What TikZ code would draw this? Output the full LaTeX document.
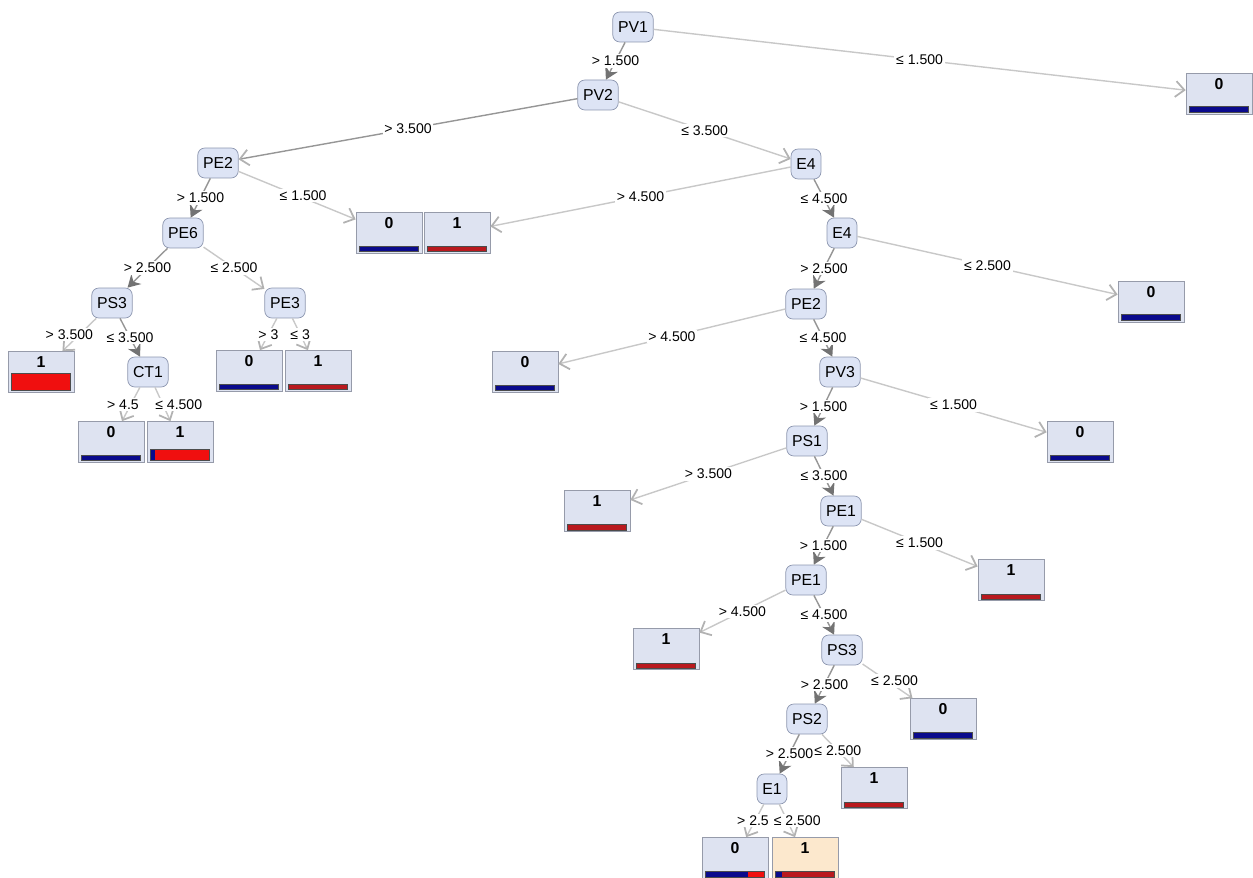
\documentclass[tikz,border=0pt]{standalone}
\usepackage{fontspec}
\setmainfont{Liberation Sans}
\usetikzlibrary{arrows.meta}
\definecolor{nodefill}{RGB}{221,228,245}
\definecolor{nodeline}{RGB}{140,150,175}
\definecolor{leaffill}{RGB}{222,227,241}
\definecolor{leafline}{RGB}{150,155,170}
\definecolor{orangefill}{RGB}{252,232,205}
\definecolor{barblue}{RGB}{10,10,140}
\definecolor{barred}{RGB}{185,25,30}
\definecolor{brightred}{RGB}{240,15,15}
\definecolor{edgelight}{RGB}{200,200,200}
\definecolor{edgedark}{RGB}{150,150,150}

% #1 leaf, #2 blue part (px), #3 bar height (px), #4 rest colour
\newcommand{\leafbar}[4]{%
  \fill[barblue] ([shift={(4,-2)}]#1.south west) rectangle ++(#2,-#3);
  \fill[#4] ([shift={(4+#2,-2)}]#1.south west) rectangle ([shift={(-4,-2-#3)}]#1.south east);
  \draw[black!70,line width=0.4pt] ([shift={(4,-2)}]#1.south west) rectangle ([shift={(-4,-2-#3)}]#1.south east);}

\begin{document}
\begin{tikzpicture}[x=0.02cm,y=-0.02cm]
	\tikzstyle{attr} = [draw=nodeline, fill=nodefill, rounded corners=4pt, minimum height=0.6cm, inner xsep=3pt, font=\fontsize{9}{10}\selectfont]
	\tikzstyle{leaf} = [draw=leafline, fill=leaffill, minimum width=1.32cm, minimum height=0.82cm, inner sep=0pt]
	\tikzstyle{digit} = [anchor=north, inner sep=3pt, font=\fontsize{9}{10}\selectfont\bfseries]
	\tikzstyle{elabel} = [midway, fill=white, inner sep=1pt, font=\fontsize{8}{9}\selectfont]
	\tikzstyle{minor} = [draw=edgelight, line width=0.8pt, -{Straight Barb[length=5pt,width=9pt,line width=1pt,color=black!30]}]
	\tikzstyle{major} = [draw=edgedark, line width=0.8pt, -{Stealth[length=7pt,width=8pt,color=black!55]}]
	\useasboundingbox (0,0) rectangle (1253,878);

	% split nodes
	\node[attr] (pvA) at (633,27) {PV1};
	\node[attr] (pvB) at (598,95) {PV2};
	\node[attr] (peBl) at (218,163) {PE2};
	\node[attr] (eDa) at (806,164) {E4};
	\node[attr] (peF) at (183,233) {PE6};
	\node[attr] (eDb) at (842,233) {E4};
	\node[attr] (psCl) at (112,303) {PS3};
	\node[attr] (peC) at (285,303) {PE3};
	\node[attr] (peBr) at (806,304) {PE2};
	\node[attr] (ctA) at (148,372) {CT1};
	\node[attr] (pvC) at (840,372) {PV3};
	\node[attr] (psA) at (807,441) {PS1};
	\node[attr] (peAa) at (841,511) {PE1};
	\node[attr] (peAb) at (806,580) {PE1};
	\node[attr] (psCr) at (842,650) {PS3};
	\node[attr] (psB) at (807,719) {PS2};
	\node[attr] (eA) at (772,789) {E1};

	% leaves
	\node[leaf, label={[digit]north:0}] (lfA) at (1219,94) {};
	\node[leaf, label={[digit]north:0}] (lfB) at (389,233) {};
	\node[leaf, label={[digit]north:1}] (lfC) at (457,233) {};
	\node[leaf, label={[digit]north:1}] (lfD) at (41,372) {};
	\node[leaf, label={[digit]north:0}] (lfE) at (249,371) {};
	\node[leaf, label={[digit]north:1}] (lfF) at (318,371) {};
	\node[leaf, label={[digit]north:0}] (lfG) at (111,442) {};
	\node[leaf, label={[digit]north:1}] (lfH) at (180,442) {};
	\node[leaf, label={[digit]north:0}] (lfI) at (1151,302) {};
	\node[leaf, label={[digit]north:0}] (lfJ) at (525,372) {};
	\node[leaf, label={[digit]north:0}] (lfK) at (1080,442) {};
	\node[leaf, label={[digit]north:1}] (lfL) at (597,511) {};
	\node[leaf, label={[digit]north:1}] (lfM) at (1011,580) {};
	\node[leaf, label={[digit]north:1}] (lfN) at (666,649) {};
	\node[leaf, label={[digit]north:0}] (lfO) at (943,719) {};
	\node[leaf, label={[digit]north:1}] (lfP) at (874,788) {};
	\node[leaf, label={[digit]north:0}] (lfQ) at (735,858) {};
	\node[leaf, fill=orangefill, label={[digit]north:1}] (lfR) at (805,858) {};

	\leafbar{lfA}{58}{6}{barred}
	\leafbar{lfB}{58}{5}{barred}
	\leafbar{lfC}{0}{5}{barred}
	\leafbar{lfD}{0}{17}{brightred}
	\leafbar{lfE}{58}{5}{barred}
	\leafbar{lfF}{0}{5}{barred}
	\leafbar{lfG}{58}{5}{barred}
	\leafbar{lfH}{4}{11}{brightred}
	\leafbar{lfI}{58}{6}{barred}
	\leafbar{lfJ}{58}{5}{barred}
	\leafbar{lfK}{58}{5}{barred}
	\leafbar{lfL}{0}{5}{barred}
	\leafbar{lfM}{0}{5}{barred}
	\leafbar{lfN}{0}{5}{barred}
	\leafbar{lfO}{58}{6}{barred}
	\leafbar{lfP}{0}{5}{barred}
	\leafbar{lfQ}{42}{6}{brightred}
	\leafbar{lfR}{6}{6}{barred}

	% branches
	\draw[major] (pvA) -- node[elabel] {> 1.500} (pvB);
	\draw[minor] (pvA) -- node[elabel] {≤ 1.500} (lfA);
	\draw[minor, draw=edgedark] (pvB) -- node[elabel] {> 3.500} (peBl);
	\draw[minor] (pvB) -- node[elabel] {≤ 3.500} (eDa);
	\draw[major] (peBl) -- node[elabel] {> 1.500} (peF);
	\draw[minor] (peBl) -- node[elabel, xshift=0.12cm] {≤ 1.500} (lfB);
	\draw[minor] (eDa) -- node[elabel] {> 4.500} (lfC);
	\draw[major] (eDa) -- node[elabel] {≤ 4.500} (eDb);
	\draw[major] (peF) -- node[elabel] {> 2.500} (psCl);
	\draw[minor] (peF) -- node[elabel] {≤ 2.500} (peC);
	\draw[major] (eDb) -- node[elabel] {> 2.500} (peBr);
	\draw[minor] (eDb) -- node[elabel] {≤ 2.500} (lfI);
	\draw[minor] (psCl) -- node[elabel, xshift=-0.2cm] {> 3.500} (lfD);
	\draw[major] (psCl) -- node[elabel] {≤ 3.500} (ctA);
	\draw[minor] (peC) -- node[elabel] {> 3} (lfE);
	\draw[minor] (peC) -- node[elabel] {≤ 3} (lfF);
	\draw[minor] (peBr) -- node[elabel] {> 4.500} (lfJ);
	\draw[major] (peBr) -- node[elabel] {≤ 4.500} (pvC);
	\draw[minor] (ctA) -- node[elabel, xshift=-0.16cm] {> 4.5} (lfG);
	\draw[minor] (ctA) -- node[elabel, xshift=0.32cm] {≤ 4.500} (lfH);
	\draw[major] (pvC) -- node[elabel] {> 1.500} (psA);
	\draw[minor] (pvC) -- node[elabel] {≤ 1.500} (lfK);
	\draw[minor] (psA) -- node[elabel] {> 3.500} (lfL);
	\draw[major] (psA) -- node[elabel] {≤ 3.500} (peAa);
	\draw[major] (peAa) -- node[elabel] {> 1.500} (peAb);
	\draw[minor] (peAa) -- node[elabel] {≤ 1.500} (lfM);
	\draw[minor] (peAb) -- node[elabel] {> 4.500} (lfN);
	\draw[major] (peAb) -- node[elabel] {≤ 4.500} (psCr);
	\draw[major] (psCr) -- node[elabel] {> 2.500} (psB);
	\draw[minor] (psCr) -- node[elabel, xshift=0.14cm] {≤ 2.500} (lfO);
	\draw[major] (psB) -- node[elabel] {> 2.500} (eA);
	\draw[minor] (psB) -- node[elabel] {≤ 2.500} (lfP);
	\draw[minor] (eA) -- node[elabel, xshift=-0.04cm] {> 2.5} (lfQ);
	\draw[minor] (eA) -- node[elabel, xshift=0.2cm] {≤ 2.500} (lfR);
\end{tikzpicture}
\end{document}
